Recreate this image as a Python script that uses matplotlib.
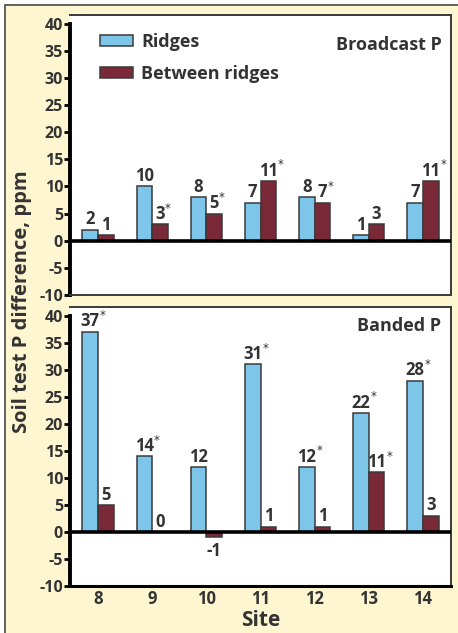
import matplotlib.pyplot as plt
import numpy as np
from matplotlib.patches import Rectangle

plt.rcParams['font.family'] = ['Open Sans', 'DejaVu Sans']

sites = ['8', '9', '10', '11', '12', '13', '14']

broad_ridges = [2, 10, 8, 7, 8, 1, 7]
broad_between = [1, 3, 5, 11, 7, 3, 11]
broad_ridges_sig = [False] * 7
broad_between_sig = [False, True, True, True, True, False, True]

band_ridges = [37, 14, 12, 31, 12, 22, 28]
band_between = [5, 0, -1, 1, 1, 11, 3]
band_ridges_sig = [True, True, False, True, True, True, True]
band_between_sig = [False, False, False, False, False, True, False]

yticks = [-10, -5, 0, 5, 10, 15, 20, 25, 30, 35, 40]

BLUE = '#7EC6E9'
MAROON = '#7A2938'
TXT = '#333333'
CREAM = '#FDF6D0'
W = 'bold'


def label_bars(ax, xs, vals, sig):
    for x, v, s in zip(xs, vals, sig):
        txt = str(v)
        if v < 0:
            ax.annotate(txt, (x, v), xytext=(0, -3), textcoords='offset points',
                        ha='center', va='top', fontsize=12, fontweight=W, color=TXT)
        else:
            ax.annotate(txt, (x, v), xytext=(0, 1), textcoords='offset points',
                        ha='center', va='bottom', fontsize=12, fontweight=W, color=TXT)
            if s:
                ax.annotate('*', (x, v), xytext=(len(txt) * 3.5, 7),
                            textcoords='offset points', ha='left', va='bottom',
                            fontsize=8.5, color=TXT, family='DejaVu Sans')


def panel(ax, ridges, between, rs, bs, title, title_y):
    x = np.arange(len(sites))
    w = 0.29
    ax.bar(x - w / 2, ridges, w, color=BLUE, edgecolor='#3a3a3a', linewidth=1.1,
           label='Ridges', zorder=3)
    ax.bar(x + w / 2, between, w, color=MAROON, edgecolor='#3a3a3a', linewidth=1.1,
           label='Between ridges', zorder=3)
    label_bars(ax, x - w / 2, ridges, rs)
    label_bars(ax, x + w / 2, between, bs)
    ax.axhline(0, color='black', lw=2.6, zorder=4)
    ax.set_xlim(-0.52, 6.52)
    ax.set_ylim(-10, 41.6)
    ax.set_yticks(yticks)
    ax.set_yticklabels([str(t) for t in yticks], fontsize=11.5, fontweight=W, color=TXT)
    ax.tick_params(axis='y', direction='out', length=4, width=2, color='black', pad=1)
    ax.set_xticks(x)
    for sp in ['top', 'right', 'bottom']:
        ax.spines[sp].set_color('#3a3a3a')
        ax.spines[sp].set_linewidth(1.4)
    ax.spines['left'].set_color('black')
    ax.spines['left'].set_linewidth(2.8)
    ax.spines['left'].set_bounds(-10, 40)
    ax.text(0.975, title_y, title, transform=ax.transAxes, ha='right', va='top',
            fontsize=13, fontweight=W, color=TXT)


fig = plt.figure(figsize=(4.58, 6.33), dpi=100)
fig.patch.set_facecolor('white')
fig.patches.append(Rectangle((5 / 458, -0.1), 1.2, 1 - 5 / 633 + 0.1, transform=fig.transFigure,
                             facecolor=CREAM, edgecolor='#555555', linewidth=1.3, zorder=-10))

ax1 = fig.add_axes([70 / 458, 1 - 295 / 633, 381 / 458, 280 / 633])
ax2 = fig.add_axes([70 / 458, 1 - 586 / 633, 381 / 458, 279 / 633])

panel(ax1, broad_ridges, broad_between, broad_ridges_sig, broad_between_sig, 'Broadcast P', 0.925)
panel(ax2, band_ridges, band_between, band_ridges_sig, band_between_sig, 'Banded P', 0.965)

ax1.tick_params(axis='x', length=0, labelbottom=False)
ax2.tick_params(axis='x', length=0, pad=3)
ax2.set_xticklabels(sites, fontsize=12, fontweight=W, color=TXT)
ax2.spines['bottom'].set_color('black')
ax2.spines['bottom'].set_linewidth(2.2)

ax1.legend(loc='upper left', bbox_to_anchor=(0.078, 0.935), frameon=False,
           handlelength=1.85, handleheight=0.55, handletextpad=0.45, labelspacing=0.75,
           borderpad=0, borderaxespad=0, labelcolor=TXT, prop={'weight': W, 'size': 13})

fig.text(22 / 458, 1 - 302 / 633, 'Soil test P difference, ppm', rotation=90, ha='center',
         va='center', fontsize=14.5, fontweight=W, color=TXT)
fig.text(261 / 458, 1 - 621 / 633, 'Site', ha='center', va='center', fontsize=15,
         fontweight=W, color=TXT)

fig.savefig('out.png', dpi=100)
